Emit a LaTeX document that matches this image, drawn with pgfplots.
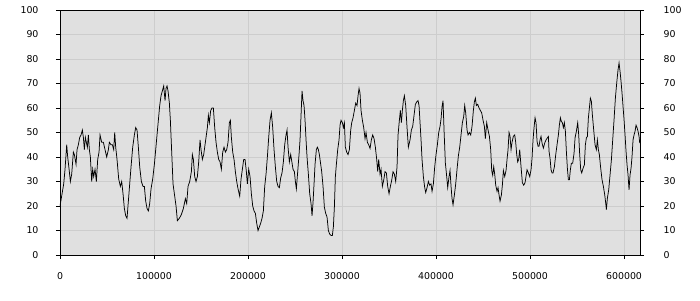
\documentclass[border=0pt]{standalone}
\usepackage{fontspec}
\setmainfont{DejaVu Sans}
\usepackage{pgfplots}
\usepackage{pgfplotstable}
\pgfplotsset{compat=1.18}
\definecolor{plotbg}{HTML}{E0E0E0}
\definecolor{gridc}{HTML}{CDCDCD}
\pgfplotstableread{
x y
0 20
3936 29
5354 35
7127 45
8191 40
9964 34
11028 30
12446 33
14219 42
15283 41
17056 37
18120 43
19538 45
20957 48
22375 49
23793 51
24857 48
25921 43
26985 48
28049 46
29112 44
30176 49
31240 43
32304 40
33722 30
34786 35
35850 32
37268 35
38687 30
40105 39
41523 42
42587 49
44360 46
46133 46
47906 43
49679 40
51452 43
52516 46
54289 45
55707 45
57126 43
58190 50
59253 44
60672 39
62445 31
64218 28
65636 30
67055 25
68473 19
69891 16
71310 15
72728 22
74147 29
75565 36
77338 44
79111 49
80529 52
81948 51
83366 44
84785 36
86558 30
88331 28
89749 28
91167 22
92586 19
94004 18
95423 21
96841 27
98614 31
100387 37
101805 43
103224 49
104642 55
106061 61
107479 65
108897 67
110316 69
111734 63
112798 68
113862 69
114926 67
116344 62
117408 55
118826 42
120245 29
121663 25
123436 20
124855 14
126982 15
129110 16.5
131238 19
133365 23
134784 21
136202 28
137975 30
139748 34
140812 41
141876 39
143294 32
144712 30
146131 32
147549 38
148968 47
150031 43
151450 39
152868 41
153932 44
155350 48
156769 52
157833 57
158896 54
160315 59
161733 60
163152 60
164570 52
165988 46
167407 42
168825 39
170244 38
171662 35
173080 42
174499 44
175917 42
177336 43
178754 46
180172 54
181236 55
182300 48
183718 42
185137 39
186555 34
187974 30
189392 27
191165 24
192583 31
194002 35
195420 39
196839 39
198257 34
199321 29
200739 35
202158 32
203576 25
204994 20
206413 18
207831 17
209250 13
210668 10
212086 11.5
213505 13
214923 15
216342 18
217760 28
219178 33
220597 40
222015 48
223434 55
224852 58
226270 52
227689 43
229107 36
230526 30
231944 28
233362 27.5
234781 31.5
236199 33.5
237618 38
239036 45
240454 49
241518 51
242582 44
244000 38
245419 41
247900 35
249319 34
250383 30
251446 27
252865 34
254283 41
255347 47
256411 57
257475 67
258538 63
259602 61
260666 55
261730 47
262794 40
264212 33
265630 25
267049 21
268113 16
269176 21.5
270240 29
271304 37
272722 43
273786 44
274850 43
275914 41
276978 38
278396 34
279814 28
281233 19.5
282651 17
284070 15.5
285488 10
286906 8.5
288325 8
289743 8
290807 11.5
291871 19.5
292935 32
293998 37
295417 43
296835 47
297899 53
298963 55
300381 54
301445 52
302509 54
303573 44
304991 42
306409 41
307828 43
309246 51
310310 54
311728 56
313147 59
314565 62
315984 61
317047 65
318111 68
319175 66
320239 59
321657 55
323076 52
324494 47.5
325558 50
326976 46
328395 45
329813 43.5
331231 47
332650 49
334068 47.5
335487 44
336905 39
337969 34
339033 39
340451 33
341515 35
342933 28
344352 30.5
345770 34
347188 33.5
348607 28
350025 25
351444 28
352862 30.5
354280 34
355699 33
357117 30
358536 36
359599 49
361018 55
362082 59
363145 54
364209 59
365273 63
366337 65
367755 61
369174 52
370592 44
372365 47
373784 51
375202 52.5
376621 57
378039 61.5
379457 62.5
380876 63
381940 61
383003 54
384067 47
385131 39
386549 32
387968 27.5
389032 25.5
390450 27.5
391868 30
393287 28.5
394705 29
395769 26
397187 29
398606 36
400024 41
401443 45
402861 50
404279 52.5
405343 55.5
406407 60.5
407471 63
408535 51
409953 37.5
411371 32
412435 27.5
413854 32
414917 34.5
415981 28
417045 23
418109 20.5
419527 24.5
420946 29
422364 35
423782 40.5
425201 44
426619 49
428038 54
429456 56.5
430520 61
431584 58
433002 51
434066 49
435484 50
436903 49
438321 52.5
439739 59
440803 62.5
441867 64
442931 61
444349 61.5
445768 60
447186 59
448604 58
450023 55
451441 52.5
452505 47.5
453923 54
455342 51
456760 48.5
458179 43
459242 34.5
460306 32.5
461370 36
462434 33
463498 28.5
464916 26
465980 27.5
467044 24.5
468107 22
469526 24.5
470590 28.5
471653 34.5
473072 32
474490 34.5
475554 39
476618 43
477682 50
478745 48.5
479809 43
480873 46
482291 48.5
483710 49
484774 46
485837 41
486901 38
487965 39
489029 43
490447 36
491866 29.5
493284 28.5
494702 29.5
496830 34.8
498249 33.5
499667 32
501086 34.8
502149 39.5
503213 47
504277 52
505341 56
506405 54
507468 46.4
508532 44.4
509596 44.4
510660 47
511724 48.4
512787 45.7
514206 43.6
515624 45.7
517043 47
518461 47.8
519525 48.4
520234 42.3
521298 39.5
522362 34.8
523425 33.5
524489 33.5
525908 36
527326 40.9
528744 45
530163 49
531227 53
532290 56
533354 54.5
534418 54
535482 52
536546 54
537609 50.5
538673 42.3
539737 35.4
540801 30.7
541865 30.7
542928 34.8
543992 37.5
545411 37.5
546829 41.5
547893 47.8
549311 50.5
550730 54
551793 49
552857 40.9
553921 34.8
554985 33.5
556403 35.4
557822 36.8
558885 45
559949 47.8
561013 48.4
562077 55.9
563141 60
564204 64
565268 62.7
566332 57.2
567750 51
569169 45
570587 43
571651 47
572715 43
573779 40.9
575197 35.4
576616 30.7
578034 28
579452 24.6
580516 21.2
581225 18.5
582289 23.2
583707 26.6
585126 32.7
586544 38.8
587963 47
589381 55.2
590799 64
592218 70.2
593636 75.6
594700 78.4
595764 75
596828 70.8
597891 66
598955 60.6
600019 55.2
601083 49
602147 42.3
603210 36.8
604274 32.7
605338 26.6
606402 32.7
607466 35.4
608529 40.2
609593 47
610657 49
611721 50.5
612785 53
613848 52
614912 50.5
615976 48.4
616685 45.7
}\data
\pgfplotsset{
  common/.style={
    at={(0,0)}, anchor=south west, scale only axis,
    width=580pt, height=245pt,
    xmin=0, xmax=617000, ymin=0, ymax=100,
    scaled x ticks=false, scaled y ticks=false,
    ytick={0,10,20,30,40,50,60,70,80,90,100},
    yticklabels={0,10,20,30,40,50,60,70,80,90,100},
    tick align=outside, major tick length=4pt,
    tick style={black, line width=0.8pt},
    tick label style={font=\fontsize{9.4}{11}\selectfont},
  }
}
\begin{document}
\begin{tikzpicture}[x=1pt,y=1pt]
\useasboundingbox (-60,-45) rectangle (640,255);
\begin{axis}[common,
  axis background/.style={fill=plotbg},
  axis line style={black, line width=0.8pt},
  xtick={0,100000,200000,300000,400000,500000,600000},
  xticklabels={0,100000,200000,300000,400000,500000,600000},
  xtick pos=bottom, ytick pos=left,
  grid=major, grid style={gridc, line width=0.8pt},
  yticklabel style={xshift=-14pt},
  xticklabel style={yshift=-10pt},
]
\addplot[black, line width=0.75pt, mark=none] table[x=x,y=y] {\data};
\end{axis}
\begin{axis}[common,
  axis x line=none, axis y line*=right,
  axis line style={black, line width=0.8pt},
  yticklabel style={xshift=16pt},
]
\addplot[draw=none] coordinates {(0,0)};
\end{axis}
\end{tikzpicture}
\end{document}
